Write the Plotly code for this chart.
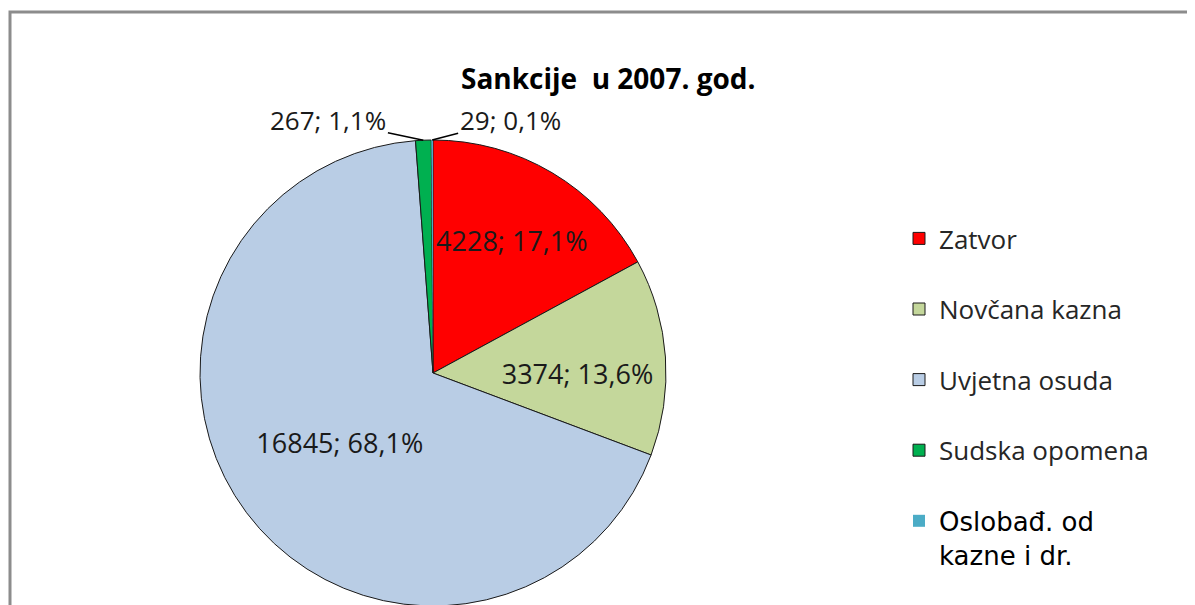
import numpy as np
import plotly.graph_objects as go

# podaci: sankcije u 2007. godini
kategorije = ["Zatvor", "Novčana kazna", "Uvjetna osuda", "Sudska opomena", "Oslobađ. od kazne i dr."]
broj = [4228, 3374, 16845, 267, 29]
boje = ["#FF0000", "#C4D79B", "#B9CDE5", "#00B050", "#4BACC6"]
naslov = "Sankcije  u 2007. god."

W, H = 1195, 605
OFF = 8  # margina stranice oko grafikona
ukupno = sum(broj)
postotci = [100 * v / ukupno for v in broj]


def px_x(x):
    return (x - OFF) / W


def px_y(y):
    return 1 - (y - OFF) / H


def oznaka(v, p):
    return f"{v}; {p:.1f}%".replace(".", ",")


# tekst u legendi (zadnja stavka je drugim fontom u dva retka)
legenda = [k + "<br> " for k in kategorije[:4]]
stil = "font-family:DejaVu Sans;color:#000000"
legenda.append(f"<span style='{stil}'>Oslobađ. od</span><br><span style='{stil}'>kazne i dr.</span>")

tekst_pozicija = ["inside", "inside", "inside", "none", "none"]

# geometrija kruga (px na stranici)
cx, cy, r = 433, 373, 233
dom_x = [px_x(cx - 260), px_x(cx + 260)]
dom_y = [px_y(cy + r), px_y(cy - r)]

fig = go.Figure()
fig.add_trace(go.Pie(
    labels=legenda,
    values=broj,
    sort=False,
    direction="clockwise",
    rotation=0,
    marker=dict(colors=boje, line=dict(color="#1a1a1a", width=[1, 1, 1, 1, 0])),
    texttemplate="%{value:d}; %{percent:.1%}",
    textposition=tekst_pozicija,
    insidetextorientation="horizontal",
    textfont=dict(family="Open Sans", size=27, color="#1a1a1a"),
    domain=dict(x=dom_x, y=dom_y),
    hoverinfo="skip",
))

# vanjske oznake za male isječke
kum = np.cumsum(broj)
sredina = (kum - np.array(broj) / 2) / ukupno * 2 * np.pi
pomaci = {3: (-95, -20), 4: (78, -20)}
for i, (ax, ay) in pomaci.items():
    x = cx + r * np.sin(sredina[i])
    y = cy - r * np.cos(sredina[i])
    fig.add_annotation(
        x=px_x(x), y=px_y(y), xref="paper", yref="paper",
        text=oznaka(broj[i], postotci[i]),
        showarrow=True, arrowhead=0, arrowwidth=1.5, arrowcolor="#000000",
        ax=ax, ay=ay, standoff=0,
        font=dict(family="Open Sans", size=26, color="#1a1a1a"),
    )

fig.add_annotation(
    x=px_x(608), y=px_y(57), xref="paper", yref="paper", showarrow=False,
    text=f"<b>{naslov}</b>",
    font=dict(family="Open Sans", size=28, color="#000000"),
)

# okvir grafikona
fig.add_shape(type="rect", xref="paper", yref="paper",
              x0=px_x(10), x1=1.05, y0=-0.05, y1=px_y(12),
              line=dict(color="#8c8c8c", width=3))

fig.update_layout(
    width=W, height=H,
    margin=dict(l=0, r=0, t=0, b=0),
    paper_bgcolor="white",
    plot_bgcolor="white",
    separators=",.",
    showlegend=True,
    legend=dict(
        x=px_x(899), y=px_y(215), xanchor="left", yanchor="top",
        font=dict(family="Open Sans", size=26, color="#262626"),
        valign="top",
        bgcolor="rgba(0,0,0,0)",
    ),
)

fig.write_html("out.html")
